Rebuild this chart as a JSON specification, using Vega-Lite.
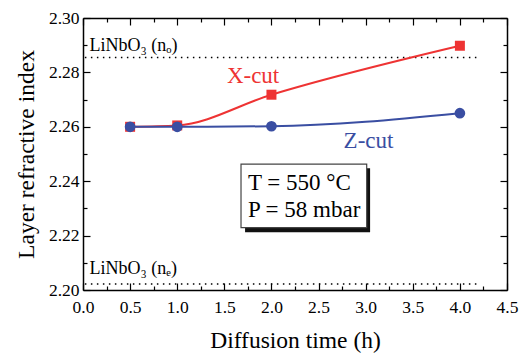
{
  "$schema": "https://vega.github.io/schema/vega-lite/v6.json",
  "width": 424,
  "height": 272,
  "autosize": {"type": "none"},
  "padding": {"left": 83, "top": 18, "right": 21, "bottom": 64},
  "background": "white",
  "config": {"view": {"stroke": null}, "font": "Liberation Serif"},
  "datasets": {
    "series": [
      {"cut": "X-cut", "t": 0.5, "n": 2.26},
      {"cut": "X-cut", "t": 1.0, "n": 2.2605},
      {"cut": "X-cut", "t": 2.0, "n": 2.2718},
      {"cut": "X-cut", "t": 4.0, "n": 2.2898},
      {"cut": "Z-cut", "t": 0.5, "n": 2.26},
      {"cut": "Z-cut", "t": 1.0, "n": 2.26},
      {"cut": "Z-cut", "t": 2.0, "n": 2.2602},
      {"cut": "Z-cut", "t": 4.0, "n": 2.265}
    ],
    "bulk": [
      {"name": "LiNbO₃ (nₒ)", "t0": 0.02, "t1": 4.2, "n": 2.2855, "tx": 0.07, "ty": 2.2897},
      {"name": "LiNbO₃ (nₑ)", "t0": 0.02, "t1": 4.2, "n": 2.2022, "tx": 0.07, "ty": 2.2079}
    ],
    "box": [{"x": 1.677, "x2": 3.011, "y": 2.2463, "y2": 2.2229}],
    "shadow": [{"x": 1.72, "x2": 3.047, "y": 2.2448, "y2": 2.2212}],
    "boxtext": [
      {"x": 1.75, "y": 2.2393, "text": "T = 550 °C"},
      {"x": 1.75, "y": 2.2294, "text": "P = 58 mbar"}
    ],
    "xlab": [{"x": 1.805, "y": 2.2785, "text": "X-cut"}],
    "zlab": [{"x": 3.03, "y": 2.2548, "text": "Z-cut"}]
  },
  "resolve": {"axis": {"x": "independent", "y": "independent"}},
  "layer": [
    {
      "data": {"name": "bulk"},
      "mark": {"type": "rule", "strokeDash": [1.5, 4.5], "strokeWidth": 1.5, "color": "black"},
      "encoding": {
        "x": {
          "field": "t0", "type": "quantitative",
          "scale": {"domain": [0, 4.5], "nice": false, "zero": false},
          "axis": {
            "orient": "bottom",
            "values": [0, 0.25, 0.5, 0.75, 1, 1.25, 1.5, 1.75, 2, 2.25, 2.5, 2.75, 3, 3.25, 3.5, 3.75, 4, 4.25, 4.5],
            "format": ".1f",
            "labelExpr": "datum.value*2 == round(datum.value*2) ? datum.label : ''",
            "tickSize": {"condition": {"test": "datum.value*2 == round(datum.value*2)", "value": -7}, "value": -4},
            "grid": false,
            "domainColor": "black", "domainWidth": 1.5,
            "tickColor": "black", "tickWidth": 1.2,
            "labelColor": "black", "labelFont": "Liberation Serif", "labelFontSize": 17.5,
            "labelPadding": 15, "labelOverlap": false, "labelFlush": false,
            "title": "Diffusion time (h)",
            "titleFont": "Liberation Serif", "titleFontSize": 23.5, "titleFontWeight": "normal",
            "titleColor": "black", "titlePadding": 10
          }
        },
        "x2": {"field": "t1"},
        "y": {
          "field": "n", "type": "quantitative",
          "scale": {"domain": [2.2, 2.3], "nice": false, "zero": false},
          "axis": {
            "orient": "left",
            "values": [2.2, 2.21, 2.22, 2.23, 2.24, 2.25, 2.26, 2.27, 2.28, 2.29, 2.3],
            "labelExpr": "round(datum.value*100) % 2 == 0 ? format(datum.value, '.2f') : ''",
            "tickSize": {"condition": {"test": "round(datum.value*100) % 2 == 0", "value": -7}, "value": -4},
            "grid": false,
            "domainColor": "black", "domainWidth": 1.5,
            "tickColor": "black", "tickWidth": 1.2,
            "labelColor": "black", "labelFont": "Liberation Serif", "labelFontSize": 17.5,
            "labelPadding": 11, "labelOverlap": false, "labelFlush": false,
            "title": "Layer refractive index",
            "titleFont": "Liberation Serif", "titleFontSize": 23.5, "titleFontWeight": "normal",
            "titleColor": "black", "titlePadding": 10
          }
        }
      }
    },
    {
      "data": {"name": "series"},
      "transform": [{"filter": "datum.cut == 'X-cut'"}],
      "mark": {"type": "line", "interpolate": "monotone", "color": "#EE3333", "strokeWidth": 2},
      "encoding": {
        "x": {
          "field": "t", "type": "quantitative",
          "axis": {
            "orient": "top",
            "values": [0, 0.25, 0.5, 0.75, 1, 1.25, 1.5, 1.75, 2, 2.25, 2.5, 2.75, 3, 3.25, 3.5, 3.75, 4, 4.25, 4.5],
            "labels": false, "title": null, "grid": false,
            "tickSize": {"condition": {"test": "datum.value*2 == round(datum.value*2)", "value": -7}, "value": -4},
            "domainColor": "black", "domainWidth": 1.5, "tickColor": "black", "tickWidth": 1.2
          }
        },
        "y": {
          "field": "n", "type": "quantitative",
          "axis": {
            "orient": "right",
            "values": [2.2, 2.21, 2.22, 2.23, 2.24, 2.25, 2.26, 2.27, 2.28, 2.29, 2.3],
            "labels": false, "title": null, "grid": false,
            "tickSize": {"condition": {"test": "round(datum.value*100) % 2 == 0", "value": -7}, "value": -4},
            "domainColor": "black", "domainWidth": 1.5, "tickColor": "black", "tickWidth": 1.2
          }
        }
      }
    },
    {
      "data": {"name": "shadow"},
      "mark": {"type": "rect", "fill": "#111111"},
      "encoding": {
        "x": {"field": "x", "type": "quantitative", "axis": null},
        "x2": {"field": "x2"},
        "y": {"field": "y", "type": "quantitative", "axis": null},
        "y2": {"field": "y2"}
      }
    },
    {
      "data": {"name": "box"},
      "mark": {"type": "rect", "fill": "white", "stroke": "#444444", "strokeWidth": 1.2},
      "encoding": {
        "x": {"field": "x", "type": "quantitative", "axis": null},
        "x2": {"field": "x2"},
        "y": {"field": "y", "type": "quantitative", "axis": null},
        "y2": {"field": "y2"}
      }
    },
    {
      "data": {"name": "boxtext"},
      "mark": {"type": "text", "align": "left", "baseline": "middle", "font": "Liberation Serif", "fontSize": 23, "color": "black"},
      "encoding": {
        "x": {"field": "x", "type": "quantitative", "axis": null},
        "y": {"field": "y", "type": "quantitative", "axis": null},
        "text": {"field": "text"}
      }
    },
    {
      "data": {"name": "series"},
      "transform": [{"filter": "datum.cut == 'X-cut'"}],
      "mark": {"type": "point", "shape": "square", "filled": true, "size": 100, "color": "#EE3333", "opacity": 1},
      "encoding": {
        "x": {"field": "t", "type": "quantitative", "axis": null},
        "y": {"field": "n", "type": "quantitative", "axis": null}
      }
    },
    {
      "data": {"name": "series"},
      "transform": [{"filter": "datum.cut == 'Z-cut'"}],
      "mark": {"type": "line", "interpolate": "monotone", "color": "#3A4EA2", "strokeWidth": 2},
      "encoding": {
        "x": {"field": "t", "type": "quantitative", "axis": null},
        "y": {"field": "n", "type": "quantitative", "axis": null}
      }
    },
    {
      "data": {"name": "series"},
      "transform": [{"filter": "datum.cut == 'Z-cut'"}],
      "mark": {"type": "point", "shape": "circle", "filled": true, "size": 115, "color": "#3A4EA2", "opacity": 1},
      "encoding": {
        "x": {"field": "t", "type": "quantitative", "axis": null},
        "y": {"field": "n", "type": "quantitative", "axis": null}
      }
    },
    {
      "data": {"name": "bulk"},
      "mark": {"type": "text", "align": "left", "baseline": "middle", "font": "Liberation Serif", "fontSize": 18, "color": "black"},
      "encoding": {
        "x": {"field": "tx", "type": "quantitative", "axis": null},
        "y": {"field": "ty", "type": "quantitative", "axis": null},
        "text": {"field": "name"}
      }
    },
    {
      "data": {"name": "xlab"},
      "mark": {"type": "text", "align": "center", "baseline": "middle", "font": "Liberation Serif", "fontSize": 23, "color": "#EE3333"},
      "encoding": {
        "x": {"field": "x", "type": "quantitative", "axis": null},
        "y": {"field": "y", "type": "quantitative", "axis": null},
        "text": {"field": "text"}
      }
    },
    {
      "data": {"name": "zlab"},
      "mark": {"type": "text", "align": "center", "baseline": "middle", "font": "Liberation Serif", "fontSize": 23, "color": "#3A4EA2"},
      "encoding": {
        "x": {"field": "x", "type": "quantitative", "axis": null},
        "y": {"field": "y", "type": "quantitative", "axis": null},
        "text": {"field": "text"}
      }
    }
  ]
}
